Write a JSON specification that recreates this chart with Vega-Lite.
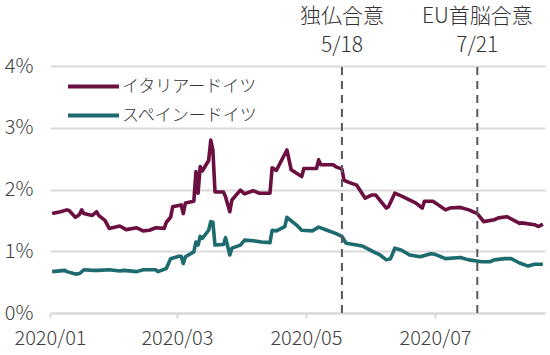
{
  "$schema": "https://vega.github.io/schema/vega-lite/v6.json",
  "width": 495,
  "height": 247,
  "autosize": {"type": "none"},
  "padding": {"left": 50, "top": 66, "right": 5, "bottom": 42},
  "background": "white",
  "config": {
    "view": {"stroke": null},
    "font": "Noto Sans CJK JP"
  },
  "datasets": {
    "series": [
      {"d": "2020-01-02", "s": "イタリアードイツ", "v": 1.61},
      {"d": "2020-01-06", "s": "イタリアードイツ", "v": 1.64},
      {"d": "2020-01-09", "s": "イタリアードイツ", "v": 1.67},
      {"d": "2020-01-10", "s": "イタリアードイツ", "v": 1.66},
      {"d": "2020-01-13", "s": "イタリアードイツ", "v": 1.55},
      {"d": "2020-01-14", "s": "イタリアードイツ", "v": 1.57},
      {"d": "2020-01-15", "s": "イタリアードイツ", "v": 1.60},
      {"d": "2020-01-16", "s": "イタリアードイツ", "v": 1.67},
      {"d": "2020-01-17", "s": "イタリアードイツ", "v": 1.61},
      {"d": "2020-01-21", "s": "イタリアードイツ", "v": 1.58},
      {"d": "2020-01-23", "s": "イタリアードイツ", "v": 1.64},
      {"d": "2020-01-24", "s": "イタリアードイツ", "v": 1.58},
      {"d": "2020-01-27", "s": "イタリアードイツ", "v": 1.50},
      {"d": "2020-01-29", "s": "イタリアードイツ", "v": 1.37},
      {"d": "2020-02-03", "s": "イタリアードイツ", "v": 1.41},
      {"d": "2020-02-06", "s": "イタリアードイツ", "v": 1.35},
      {"d": "2020-02-11", "s": "イタリアードイツ", "v": 1.38},
      {"d": "2020-02-14", "s": "イタリアードイツ", "v": 1.33},
      {"d": "2020-02-17", "s": "イタリアードイツ", "v": 1.34},
      {"d": "2020-02-20", "s": "イタリアードイツ", "v": 1.38},
      {"d": "2020-02-24", "s": "イタリアードイツ", "v": 1.37},
      {"d": "2020-02-25", "s": "イタリアードイツ", "v": 1.47},
      {"d": "2020-02-27", "s": "イタリアードイツ", "v": 1.55},
      {"d": "2020-02-28", "s": "イタリアードイツ", "v": 1.72},
      {"d": "2020-03-03", "s": "イタリアードイツ", "v": 1.75},
      {"d": "2020-03-04", "s": "イタリアードイツ", "v": 1.61},
      {"d": "2020-03-05", "s": "イタリアードイツ", "v": 1.78},
      {"d": "2020-03-09", "s": "イタリアードイツ", "v": 1.81},
      {"d": "2020-03-10", "s": "イタリアードイツ", "v": 2.29},
      {"d": "2020-03-11", "s": "イタリアードイツ", "v": 1.94},
      {"d": "2020-03-12", "s": "イタリアードイツ", "v": 2.37},
      {"d": "2020-03-13", "s": "イタリアードイツ", "v": 2.30},
      {"d": "2020-03-16", "s": "イタリアードイツ", "v": 2.47},
      {"d": "2020-03-17", "s": "イタリアードイツ", "v": 2.80},
      {"d": "2020-03-18", "s": "イタリアードイツ", "v": 2.64},
      {"d": "2020-03-19", "s": "イタリアードイツ", "v": 1.96},
      {"d": "2020-03-23", "s": "イタリアードイツ", "v": 1.96},
      {"d": "2020-03-24", "s": "イタリアードイツ", "v": 1.88},
      {"d": "2020-03-26", "s": "イタリアードイツ", "v": 1.64},
      {"d": "2020-03-27", "s": "イタリアードイツ", "v": 1.83},
      {"d": "2020-03-31", "s": "イタリアードイツ", "v": 1.99},
      {"d": "2020-04-02", "s": "イタリアードイツ", "v": 1.93},
      {"d": "2020-04-06", "s": "イタリアードイツ", "v": 1.98},
      {"d": "2020-04-09", "s": "イタリアードイツ", "v": 1.94},
      {"d": "2020-04-14", "s": "イタリアードイツ", "v": 1.94},
      {"d": "2020-04-15", "s": "イタリアードイツ", "v": 2.35},
      {"d": "2020-04-17", "s": "イタリアードイツ", "v": 2.31},
      {"d": "2020-04-22", "s": "イタリアードイツ", "v": 2.64},
      {"d": "2020-04-24", "s": "イタリアードイツ", "v": 2.32},
      {"d": "2020-04-29", "s": "イタリアードイツ", "v": 2.21},
      {"d": "2020-04-30", "s": "イタリアードイツ", "v": 2.34},
      {"d": "2020-05-06", "s": "イタリアードイツ", "v": 2.34},
      {"d": "2020-05-07", "s": "イタリアードイツ", "v": 2.48},
      {"d": "2020-05-08", "s": "イタリアードイツ", "v": 2.40},
      {"d": "2020-05-14", "s": "イタリアードイツ", "v": 2.40},
      {"d": "2020-05-15", "s": "イタリアードイツ", "v": 2.37},
      {"d": "2020-05-18", "s": "イタリアードイツ", "v": 2.33},
      {"d": "2020-05-19", "s": "イタリアードイツ", "v": 2.15},
      {"d": "2020-05-21", "s": "イタリアードイツ", "v": 2.12},
      {"d": "2020-05-25", "s": "イタリアードイツ", "v": 2.07},
      {"d": "2020-05-29", "s": "イタリアードイツ", "v": 1.86},
      {"d": "2020-06-01", "s": "イタリアードイツ", "v": 1.91},
      {"d": "2020-06-03", "s": "イタリアードイツ", "v": 1.91},
      {"d": "2020-06-08", "s": "イタリアードイツ", "v": 1.70},
      {"d": "2020-06-09", "s": "イタリアードイツ", "v": 1.72},
      {"d": "2020-06-12", "s": "イタリアードイツ", "v": 1.94},
      {"d": "2020-06-16", "s": "イタリアードイツ", "v": 1.88},
      {"d": "2020-06-22", "s": "イタリアードイツ", "v": 1.78},
      {"d": "2020-06-25", "s": "イタリアードイツ", "v": 1.70},
      {"d": "2020-06-26", "s": "イタリアードイツ", "v": 1.81},
      {"d": "2020-06-30", "s": "イタリアードイツ", "v": 1.81},
      {"d": "2020-07-06", "s": "イタリアードイツ", "v": 1.67},
      {"d": "2020-07-08", "s": "イタリアードイツ", "v": 1.70},
      {"d": "2020-07-13", "s": "イタリアードイツ", "v": 1.71},
      {"d": "2020-07-17", "s": "イタリアードイツ", "v": 1.67},
      {"d": "2020-07-21", "s": "イタリアードイツ", "v": 1.61},
      {"d": "2020-07-24", "s": "イタリアードイツ", "v": 1.48},
      {"d": "2020-07-29", "s": "イタリアードイツ", "v": 1.51},
      {"d": "2020-07-31", "s": "イタリアードイツ", "v": 1.54},
      {"d": "2020-08-04", "s": "イタリアードイツ", "v": 1.56},
      {"d": "2020-08-10", "s": "イタリアードイツ", "v": 1.45},
      {"d": "2020-08-11", "s": "イタリアードイツ", "v": 1.46},
      {"d": "2020-08-17", "s": "イタリアードイツ", "v": 1.43},
      {"d": "2020-08-19", "s": "イタリアードイツ", "v": 1.40},
      {"d": "2020-08-21", "s": "イタリアードイツ", "v": 1.44},
      {"d": "2020-01-02", "s": "スペインードイツ", "v": 0.67},
      {"d": "2020-01-08", "s": "スペインードイツ", "v": 0.69},
      {"d": "2020-01-09", "s": "スペインードイツ", "v": 0.67},
      {"d": "2020-01-13", "s": "スペインードイツ", "v": 0.63},
      {"d": "2020-01-15", "s": "スペインードイツ", "v": 0.64},
      {"d": "2020-01-17", "s": "スペインードイツ", "v": 0.70},
      {"d": "2020-01-21", "s": "スペインードイツ", "v": 0.69},
      {"d": "2020-01-24", "s": "スペインードイツ", "v": 0.69},
      {"d": "2020-01-29", "s": "スペインードイツ", "v": 0.70},
      {"d": "2020-02-03", "s": "スペインードイツ", "v": 0.68},
      {"d": "2020-02-05", "s": "スペインードイツ", "v": 0.69},
      {"d": "2020-02-11", "s": "スペインードイツ", "v": 0.67},
      {"d": "2020-02-14", "s": "スペインードイツ", "v": 0.70},
      {"d": "2020-02-20", "s": "スペインードイツ", "v": 0.70},
      {"d": "2020-02-21", "s": "スペインードイツ", "v": 0.67},
      {"d": "2020-02-25", "s": "スペインードイツ", "v": 0.72},
      {"d": "2020-02-27", "s": "スペインードイツ", "v": 0.88},
      {"d": "2020-03-02", "s": "スペインードイツ", "v": 0.92},
      {"d": "2020-03-03", "s": "スペインードイツ", "v": 0.92},
      {"d": "2020-03-04", "s": "スペインードイツ", "v": 0.80},
      {"d": "2020-03-05", "s": "スペインードイツ", "v": 0.91},
      {"d": "2020-03-09", "s": "スペインードイツ", "v": 0.99},
      {"d": "2020-03-10", "s": "スペインードイツ", "v": 1.15},
      {"d": "2020-03-11", "s": "スペインードイツ", "v": 1.10},
      {"d": "2020-03-12", "s": "スペインードイツ", "v": 1.24},
      {"d": "2020-03-13", "s": "スペインードイツ", "v": 1.21},
      {"d": "2020-03-16", "s": "スペインードイツ", "v": 1.34},
      {"d": "2020-03-17", "s": "スペインードイツ", "v": 1.48},
      {"d": "2020-03-18", "s": "スペインードイツ", "v": 1.47},
      {"d": "2020-03-19", "s": "スペインードイツ", "v": 1.10},
      {"d": "2020-03-23", "s": "スペインードイツ", "v": 1.11},
      {"d": "2020-03-24", "s": "スペインードイツ", "v": 1.22},
      {"d": "2020-03-26", "s": "スペインードイツ", "v": 0.94},
      {"d": "2020-03-27", "s": "スペインードイツ", "v": 1.05},
      {"d": "2020-03-31", "s": "スペインードイツ", "v": 1.10},
      {"d": "2020-04-02", "s": "スペインードイツ", "v": 1.18},
      {"d": "2020-04-06", "s": "スペインードイツ", "v": 1.17},
      {"d": "2020-04-10", "s": "スペインードイツ", "v": 1.15},
      {"d": "2020-04-14", "s": "スペインードイツ", "v": 1.14},
      {"d": "2020-04-15", "s": "スペインードイツ", "v": 1.34},
      {"d": "2020-04-17", "s": "スペインードイツ", "v": 1.33},
      {"d": "2020-04-21", "s": "スペインードイツ", "v": 1.40},
      {"d": "2020-04-22", "s": "スペインードイツ", "v": 1.55},
      {"d": "2020-04-27", "s": "スペインードイツ", "v": 1.41},
      {"d": "2020-04-29", "s": "スペインードイツ", "v": 1.34},
      {"d": "2020-05-04", "s": "スペインードイツ", "v": 1.33},
      {"d": "2020-05-07", "s": "スペインードイツ", "v": 1.39},
      {"d": "2020-05-11", "s": "スペインードイツ", "v": 1.34},
      {"d": "2020-05-15", "s": "スペインードイツ", "v": 1.29},
      {"d": "2020-05-18", "s": "スペインードイツ", "v": 1.24},
      {"d": "2020-05-20", "s": "スペインードイツ", "v": 1.13},
      {"d": "2020-05-25", "s": "スペインードイツ", "v": 1.10},
      {"d": "2020-05-28", "s": "スペインードイツ", "v": 1.08},
      {"d": "2020-06-02", "s": "スペインードイツ", "v": 0.99},
      {"d": "2020-06-05", "s": "スペインードイツ", "v": 0.94},
      {"d": "2020-06-08", "s": "スペインードイツ", "v": 0.86},
      {"d": "2020-06-10", "s": "スペインードイツ", "v": 0.88},
      {"d": "2020-06-12", "s": "スペインードイツ", "v": 1.05},
      {"d": "2020-06-15", "s": "スペインードイツ", "v": 1.02},
      {"d": "2020-06-19", "s": "スペインードイツ", "v": 0.94},
      {"d": "2020-06-24", "s": "スペインードイツ", "v": 0.91},
      {"d": "2020-06-29", "s": "スペインードイツ", "v": 0.96},
      {"d": "2020-07-01", "s": "スペインードイツ", "v": 0.95},
      {"d": "2020-07-06", "s": "スペインードイツ", "v": 0.88},
      {"d": "2020-07-13", "s": "スペインードイツ", "v": 0.90},
      {"d": "2020-07-17", "s": "スペインードイツ", "v": 0.86},
      {"d": "2020-07-23", "s": "スペインードイツ", "v": 0.83},
      {"d": "2020-07-27", "s": "スペインードイツ", "v": 0.83},
      {"d": "2020-07-29", "s": "スペインードイツ", "v": 0.86},
      {"d": "2020-08-03", "s": "スペインードイツ", "v": 0.88},
      {"d": "2020-08-06", "s": "スペインードイツ", "v": 0.88},
      {"d": "2020-08-10", "s": "スペインードイツ", "v": 0.81},
      {"d": "2020-08-14", "s": "スペインードイツ", "v": 0.76},
      {"d": "2020-08-17", "s": "スペインードイツ", "v": 0.79},
      {"d": "2020-08-21", "s": "スペインードイツ", "v": 0.79}
    ],
    "events": [
      {"d": "2020-05-18", "label": ["独仏合意", "5/18"]},
      {"d": "2020-07-21", "label": ["EU首脳合意", "7/21"]}
    ]
  },
  "layer": [
    {
      "data": {"name": "series"},
      "mark": {"type": "line", "strokeWidth": 3.6, "strokeJoin": "round"},
      "encoding": {
        "x": {
          "field": "d", "type": "temporal", "title": null,
          "scale": {"type": "utc", "domain": [{"year": 2020, "month": 1, "date": 1, "utc": true}, {"year": 2020, "month": 8, "date": 22, "utc": true}]},
          "axis": {
            "values": [
              {"year": 2020, "month": 1, "date": 1, "utc": true},
              {"year": 2020, "month": 3, "date": 1, "utc": true},
              {"year": 2020, "month": 5, "date": 1, "utc": true},
              {"year": 2020, "month": 7, "date": 1, "utc": true}
            ],
            "format": "%Y/%m",
            "labelFontSize": 20,
            "labelFontWeight": 300,
            "labelColor": "#404040",
            "labelPadding": 10,
            "tickSize": 5,
            "tickColor": "#d9d9d9",
            "tickWidth": 2,
            "domainColor": "#d9d9d9",
            "domainWidth": 2,
            "grid": false,
            "labelFlush": false,
            "labelOverlap": false
          }
        },
        "y": {
          "field": "v", "type": "quantitative", "title": null,
          "scale": {"domain": [0, 4], "nice": false, "zero": true},
          "axis": {
            "values": [0, 1, 2, 3, 4],
            "labelExpr": "datum.value + '%'",
            "labelFontSize": 20,
            "labelFontWeight": 300,
            "labelColor": "#404040",
            "labelPadding": 17,
            "ticks": false,
            "domain": false,
            "grid": true,
            "gridColor": "#d9d9d9",
            "gridWidth": 2
          }
        },
        "color": {
          "field": "s", "type": "nominal",
          "scale": {"domain": ["イタリアードイツ", "スペインードイツ"], "range": ["#6a0f3f", "#1d6b6e"]},
          "legend": {
            "title": null,
            "orient": "none",
            "legendX": 35,
            "legendY": 12,
            "symbolType": "M-5.1,0H5.1",
            "symbolSize": 100,
            "symbolStrokeWidth": 4,
            "labelOffset": 20,
            "labelFontSize": 17,
            "labelFontWeight": 300,
            "labelColor": "#333333",
            "rowPadding": 11,
            "labelLimit": 300
          }
        }
      }
    },
    {
      "data": {"name": "events"},
      "mark": {"type": "rule", "color": "#595959", "strokeWidth": 2, "strokeDash": [8, 6]},
      "encoding": {
        "x": {"field": "d", "type": "temporal"},
        "y": {"datum": 0},
        "y2": {"datum": 4}
      }
    },
    {
      "data": {"name": "events"},
      "mark": {"type": "text", "fontSize": 21, "fontWeight": 300, "color": "#333333", "baseline": "bottom", "align": "center", "dy": -39, "lineHeight": 29},
      "encoding": {
        "x": {"field": "d", "type": "temporal"},
        "y": {"datum": 4},
        "text": {"field": "label"}
      }
    }
  ]
}
